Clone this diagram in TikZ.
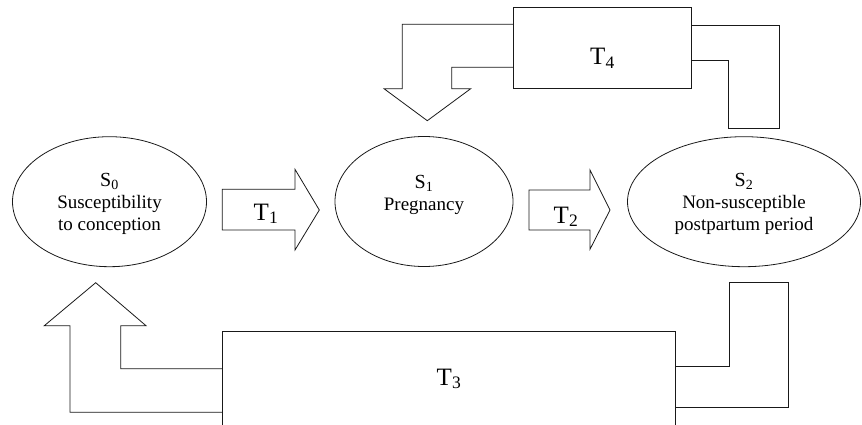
\documentclass[tikz,border=0pt]{standalone}
\usepackage{fontspec}
\setmainfont{Liberation Serif}
\usetikzlibrary{shapes.geometric}
\begin{document}
\begin{tikzpicture}[x=1pt,y=-1pt,
  ln/.style={line width=0.8pt, draw=black!90, line join=miter},
  state/.style={ellipse, ln, minimum height=130pt, inner sep=0pt},
  stext/.style={align=center, inner sep=0pt, font=\fontsize{19}{22}\selectfont},
  tbox/.style={rectangle, ln, inner sep=0pt},
  tlabel/.style={anchor=base, inner sep=0pt, font=\fontsize{25}{27}\selectfont},
]
\useasboundingbox (0,0) rectangle (862,425);
\clip (0,0) rectangle (862,425);

% states
\node[state, minimum width=194pt] (s0) at (109.5,201.7) {};
\node[state, minimum width=178pt] (s1) at (424,201.5) {};
\node[state, minimum width=233pt] (s2) at (744,201.7) {};
\node[stext] (s0t) at (109.5,204) {{\fontsize{20}{22}\selectfont S\textsubscript{0}}\\Susceptibility\\to conception};
\node[stext] (s1t) at (424,194.5) {{\fontsize{20}{22}\selectfont S\textsubscript{1}}\\Pregnancy};
\node[stext] (s2t) at (744,204) {{\fontsize{20}{22}\selectfont S\textsubscript{2}}\\Non-susceptible\\postpartum period};

% T1 arrow
\draw[ln] (222.3,189.3) -- (295,189.3) -- (295,169.3) -- (319.3,210) -- (295,250) -- (295,230) -- (222.3,230) -- cycle;
\node[tlabel] (t1) at (266,220) {T\textsubscript{1}};
% T2 arrow
\draw[ln] (529,190) -- (590,190) -- (590,170) -- (610,210) -- (590,249.3) -- (590,230) -- (529,230) -- cycle;
\node[tlabel] (t2) at (566,223) {T\textsubscript{2}};

% T4 box and bent arrows
\node[tbox, minimum width=177.7pt, minimum height=81.4pt] (t4) at (602.15,48) {};
\node[tlabel] (t4t) at (602.5,64.3) {T\textsubscript{4}};
\draw[ln] (t4.west |- 0,24.3) -- (402.3,24.3) -- (402.3,88.7) -- (384,88.7) -- (427.3,120.7)
  -- (470.7,88.7) -- (451.7,88.7) -- (451.7,67.3) -- (t4.west |- 0,67.3);
\draw[ln] (t4.east |- 0,25) -- (779,25) -- (779,128.7) -- (728,128.7) -- (728,60) -- (t4.east |- 0,60);

% T3 box and bent arrows
\node[tbox, minimum width=452.7pt, minimum height=98pt] (t3) at (448.65,380) {};
\node[tlabel] (t3t) at (449,385) {T\textsubscript{3}};
\draw[ln] (t3.west |- 0,412.3) -- (70,412.3) -- (70,325.7) -- (44.3,325.7) -- (95.7,282.7)
  -- (146,325.7) -- (120.7,325.7) -- (120.7,368.7) -- (t3.west |- 0,368.7);
\draw[ln] (t3.east |- 0,366) -- (729,366) -- (729,282.7) -- (788.3,282.7) -- (788.3,407.3) -- (t3.east |- 0,407.3);
\end{tikzpicture}
\end{document}
